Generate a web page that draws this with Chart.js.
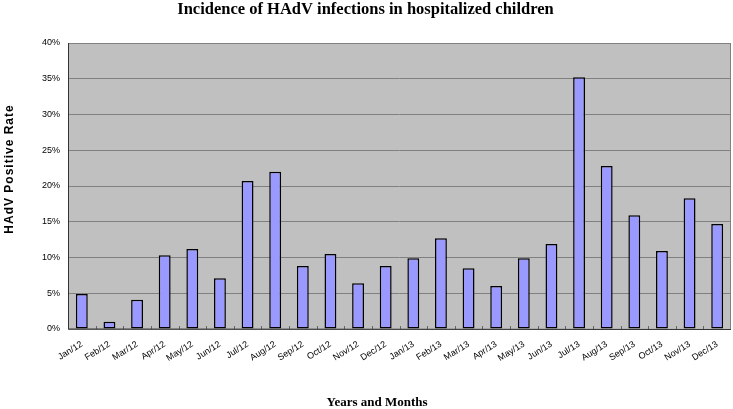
<!DOCTYPE html>
<html>
<head>
<meta charset="utf-8">
<script src="https://cdn.jsdelivr.net/npm/chart.js@4/dist/chart.umd.min.js"></script>
<style>
  html, body { margin: 0; padding: 0; background: #fff; }
  #wrap { width: 733px; height: 409px; }
</style>
</head>
<body>
<div id="wrap"><canvas id="rateChart" width="733" height="409"></canvas></div>
<script>
// months on the x axis
const months = ['Jan/12', 'Feb/12', 'Mar/12', 'Apr/12', 'May/12', 'Jun/12', 'Jul/12', 'Aug/12',
    'Sep/12', 'Oct/12', 'Nov/12', 'Dec/12', 'Jan/13', 'Feb/13', 'Mar/13', 'Apr/13',
    'May/13', 'Jun/13', 'Jul/13', 'Aug/13', 'Sep/13', 'Oct/13', 'Nov/13', 'Dec/13'];

// HAdV positive rate, percent
const positiveRate = [4.9, 1.0, 4.1, 10.3, 11.2, 7.1, 20.7, 22.0, 8.8, 10.5, 6.4, 8.8,
    9.9, 12.7, 8.5, 6.0, 9.9, 11.9, 35.2, 22.8, 15.9, 10.9, 18.3, 14.7];

const yTicks = [0, 5, 10, 15, 20, 25, 30, 35, 40];

const xTitle = 'Years and Months';
const yTitle = 'HAdV Positive Rate';

// grey plot background + border + little category ticks along the bottom
const plotArea = {
    id: 'plotArea',
    beforeDraw(chart) {
        const { ctx, chartArea: a } = chart;
        ctx.save();
        ctx.fillStyle = '#c0c0c0';
        ctx.fillRect(a.left, a.top, a.right - a.left, a.bottom - a.top);
        ctx.restore();
    },
    afterDatasetsDraw(chart) {
        const { ctx, chartArea: a, scales } = chart;
        ctx.save();
        ctx.strokeStyle = '#808080';
        ctx.lineWidth = 1;
        ctx.strokeRect(a.left + 0.5, a.top + 0.5, a.right - a.left - 1, a.bottom - a.top);
        ctx.strokeStyle = '#666';
        for (let i = 1; i < months.length; i++) {
            const x = Math.round(scales.x.getPixelForValue(i - 0.5)) + 0.5;
            ctx.beginPath();
            ctx.moveTo(x, a.bottom);
            ctx.lineTo(x, a.bottom - 3);
            ctx.stroke();
        }
        ctx.strokeStyle = '#333';
        ctx.beginPath();
        ctx.moveTo(a.left + 0.5, a.top);
        ctx.lineTo(a.left + 0.5, a.bottom);
        ctx.lineTo(a.right, a.bottom + 0.5);
        ctx.stroke();
        ctx.restore();
    },
    afterDraw(chart) {
        // axis titles sit off-centre in the original, so place them by hand
        const { ctx } = chart;
        ctx.save();
        ctx.fillStyle = '#000';
        ctx.textAlign = 'center';
        ctx.textBaseline = 'middle';
        ctx.font = 'bold 13px "Liberation Serif", "Times New Roman", serif';
        ctx.fillText(xTitle, 377, 403);
        ctx.translate(10, 169);
        ctx.rotate(-Math.PI / 2);
        ctx.font = 'bold 12px "Liberation Sans", Arial, sans-serif';
        ctx.letterSpacing = '1px';
        ctx.fillText(yTitle, 0, 0);
        ctx.restore();
    }
};

const ctx = document.getElementById('rateChart').getContext('2d');
const rateChart = new Chart(ctx, {
    type: 'bar',
    data: {
        labels: months,
        datasets: [{
            data: positiveRate,
            backgroundColor: '#9999ff',
            borderColor: '#000000',
            borderWidth: 1.5,
            borderSkipped: false,
            categoryPercentage: 1,
            barPercentage: 0.43
        }]
    },
    options: {
        responsive: false,
        animation: false,
        layout: { padding: { left: 0, right: 2, top: 0, bottom: 0 } },
        plugins: {
            legend: { display: false },
            tooltip: { enabled: false },
            title: {
                display: true,
                text: 'Incidence of HAdV infections in hospitalized children',
                color: '#000',
                font: { family: '"Liberation Serif", "Times New Roman", serif', size: 16.5, weight: 'bold' },
                padding: { top: 0, bottom: 23.2 }
            }
        },
        scales: {
            x: {
                grid: { display: false },
                border: { display: false },
                ticks: {
                    autoSkip: false,
                    minRotation: 32,
                    maxRotation: 32,
                    padding: 2,
                    color: '#000',
                    font: { family: '"Liberation Sans", Arial, sans-serif', size: 9 }
                },
                afterFit(scale) { scale.height = 80; }
            },
            y: {
                min: 0,
                max: 40,
                afterBuildTicks(scale) { scale.ticks = yTicks.map(v => ({ value: v })); },
                grid: { color: '#808080', lineWidth: 1, drawTicks: false },
                border: { display: false },
                ticks: {
                    padding: 8,
                    color: '#000',
                    font: { family: '"Liberation Sans", Arial, sans-serif', size: 9 },
                    callback: v => v + '%'
                },
                afterFit(scale) { scale.width = 68; }
            }
        }
    },
    plugins: [plotArea]
});
</script>
</body>
</html>
